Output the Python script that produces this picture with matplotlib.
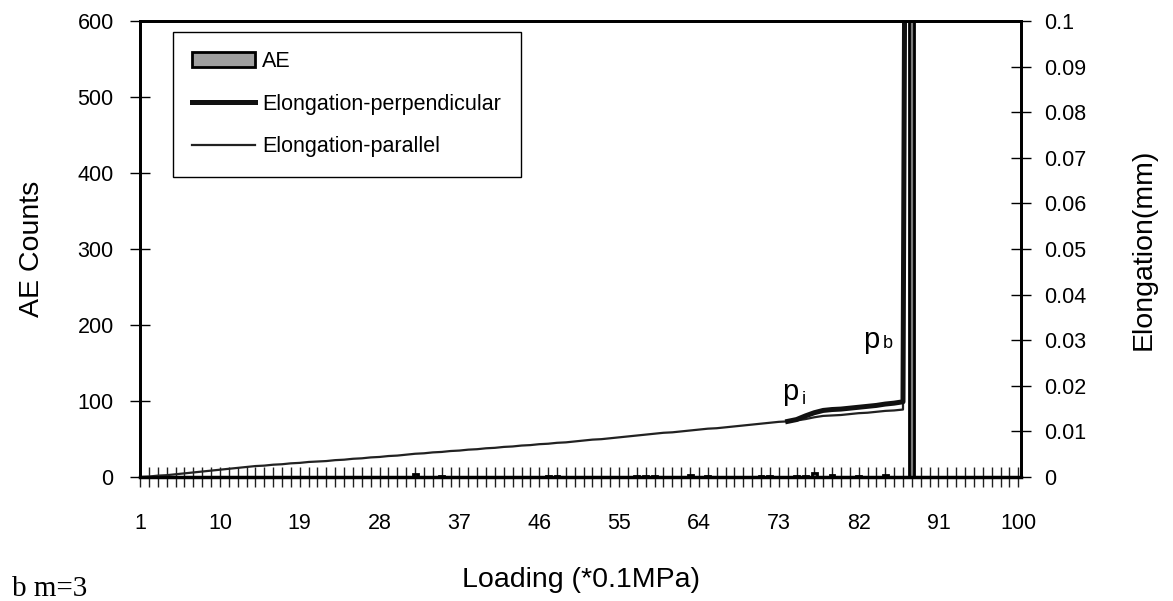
import numpy as np
import matplotlib
matplotlib.use('Agg')
import matplotlib.pyplot as plt
from matplotlib.patches import Patch
from matplotlib.lines import Line2D

plt.rcParams['font.family'] = ['Liberation Sans', 'DejaVu Sans']

# loading steps (*0.1MPa), categories 1..100
loading = list(range(1, 101))

# AE counts per loading step (bar at 88 runs far off the top)
ae_counts = [0, 0, 0, 0, 0, 0, 0, 0, 0, 0,
             0, 0, 0, 0, 0, 0, 0, 0, 0, 0,
             0, 0, 0, 0, 0, 0, 0, 0, 0, 0,
             0, 4, 0, 0, 1, 0, 0, 0, 0, 0,
             0, 0, 0, 0, 0, 0, 1, 1, 0, 0,
             0, 0, 0, 0, 0, 0, 1, 1, 1, 0,
             0, 0, 2, 0, 1, 0, 0, 0, 0, 0,
             1, 1, 0, 0, 1, 1, 5, 0, 3, 0,
             0, 1, 0, 0, 2, 0, 0, 5000, 0, 0,
             0, 0, 0, 0, 0, 0, 0, 0, 0, 0]

# elongation parallel (mm), steps 1..88
elong_parallel = [0.0000, 0.0001, 0.0003, 0.0004, 0.0006, 0.0008, 0.0010, 0.0012, 0.0014, 0.0016,
                  0.0018, 0.0020, 0.0022, 0.0024, 0.0025, 0.0027, 0.0028, 0.0030, 0.0031, 0.0033,
                  0.0034, 0.0035, 0.0037, 0.0038, 0.0040, 0.0041, 0.0043, 0.0044, 0.0046, 0.0047,
                  0.0049, 0.0051, 0.0052, 0.0054, 0.0055, 0.0057, 0.0058, 0.0060, 0.0061, 0.0063,
                  0.0064, 0.0066, 0.0067, 0.0069, 0.0070, 0.0072, 0.0073, 0.0075, 0.0076, 0.0078,
                  0.0080, 0.0082, 0.0083, 0.0085, 0.0087, 0.0089, 0.0091, 0.0093, 0.0095, 0.0097,
                  0.0098, 0.0100, 0.0102, 0.0104, 0.0106, 0.0107, 0.0109, 0.0111, 0.0113, 0.0115,
                  0.0117, 0.0119, 0.0121, 0.0122, 0.0124, 0.0127, 0.0131, 0.0134, 0.0135, 0.0136,
                  0.0138, 0.0140, 0.0141, 0.0143, 0.0145, 0.0146, 0.0148, 0.5]

# elongation perpendicular (mm), steps 74..88 (same as parallel before)
perp_loading = loading[73:88]
elong_perp = [0.0122, 0.0126, 0.0134, 0.0141, 0.0146, 0.0148, 0.0149, 0.0151,
              0.0153, 0.0155, 0.0157, 0.0160, 0.0162, 0.0165, 0.5]

count_ticks = [0, 100, 200, 300, 400, 500, 600]
elong_ticks = [0, 0.01, 0.02, 0.03, 0.04, 0.05, 0.06, 0.07, 0.08, 0.09, 0.1]
elong_labels = ['0', '0.01', '0.02', '0.03', '0.04', '0.05', '0.06', '0.07', '0.08', '0.09', '0.1']

fig = plt.figure(figsize=(11.73, 6.01), dpi=100)
ax = fig.add_axes([0.1194, 0.2063, 0.7510, 0.7587])

ax.bar(loading, ae_counts, width=0.55, color='#7a7a7a', edgecolor='black', linewidth=2, zorder=2)
ax.set_xlim(1, 100.3)
ax.set_ylim(0, 600)
ax.set_yticks(count_ticks)
ax.set_xticks(loading)
ax.set_xticklabels([str(c) if (c - 1) % 9 == 0 else '' for c in loading])

ax2 = ax.twinx()
ax2.plot(loading[:len(elong_parallel)], elong_parallel, color='#222222', lw=1.6)
ax2.plot(perp_loading, elong_perp, color='#111111', lw=3.6)
ax2.set_ylim(0, 0.1)
ax2.set_yticks(elong_ticks)
ax2.set_yticklabels(elong_labels)

for a in (ax, ax2):
    for s in a.spines.values():
        s.set_linewidth(2)
        s.set_color('black')
ax.spines['bottom'].set_linewidth(2.5)

ax.tick_params(axis='x', direction='inout', length=14, width=1, color='#222222', pad=19, labelsize=15.5)
ax.tick_params(axis='y', direction='inout', length=14, width=1, pad=12, labelsize=15.5)
ax2.tick_params(axis='y', direction='inout', length=14, width=1, pad=10, labelsize=15.5)

ax.set_xlabel('Loading (*0.1MPa)', fontsize=20.5)
ax.xaxis.set_label_coords(0.5, -0.197)
ax.set_ylabel('AE Counts', fontsize=20.5)
ax.yaxis.set_label_coords(-0.108, 0.5)
ax2.set_ylabel('Elongation(mm)', fontsize=20.5)
ax2.yaxis.set_label_coords(1.124, 0.5)

# p_i and p_b marks
ax2.text(73.4, 0.0168, 'p', fontsize=21, va='baseline')
ax2.text(75.6, 0.0161, 'i', fontsize=13, va='baseline')
ax2.text(82.5, 0.0282, 'p', fontsize=21, va='baseline')
ax2.text(84.7, 0.0282, 'b', fontsize=13, va='baseline')

handles = [Patch(facecolor='#a0a0a0', edgecolor='black', linewidth=2),
           Line2D([], [], color='#111111', lw=3.6),
           Line2D([], [], color='#222222', lw=1.6)]
leg = fig.legend(handles, ['AE', 'Elongation-perpendicular', 'Elongation-parallel'],
                 loc='upper left', bbox_to_anchor=(0.1475, 0.9468), borderaxespad=0,
                 fontsize=15.5, fancybox=False, framealpha=1, edgecolor='black',
                 handlelength=2.9, handletextpad=0.35, labelspacing=1.0, borderpad=0.9)
leg.get_frame().set_linewidth(1)

fig.text(0.0102, 0.008, 'b m=3', family='Liberation Serif', fontsize=21, va='baseline')

fig.savefig('out.png', dpi=100)
